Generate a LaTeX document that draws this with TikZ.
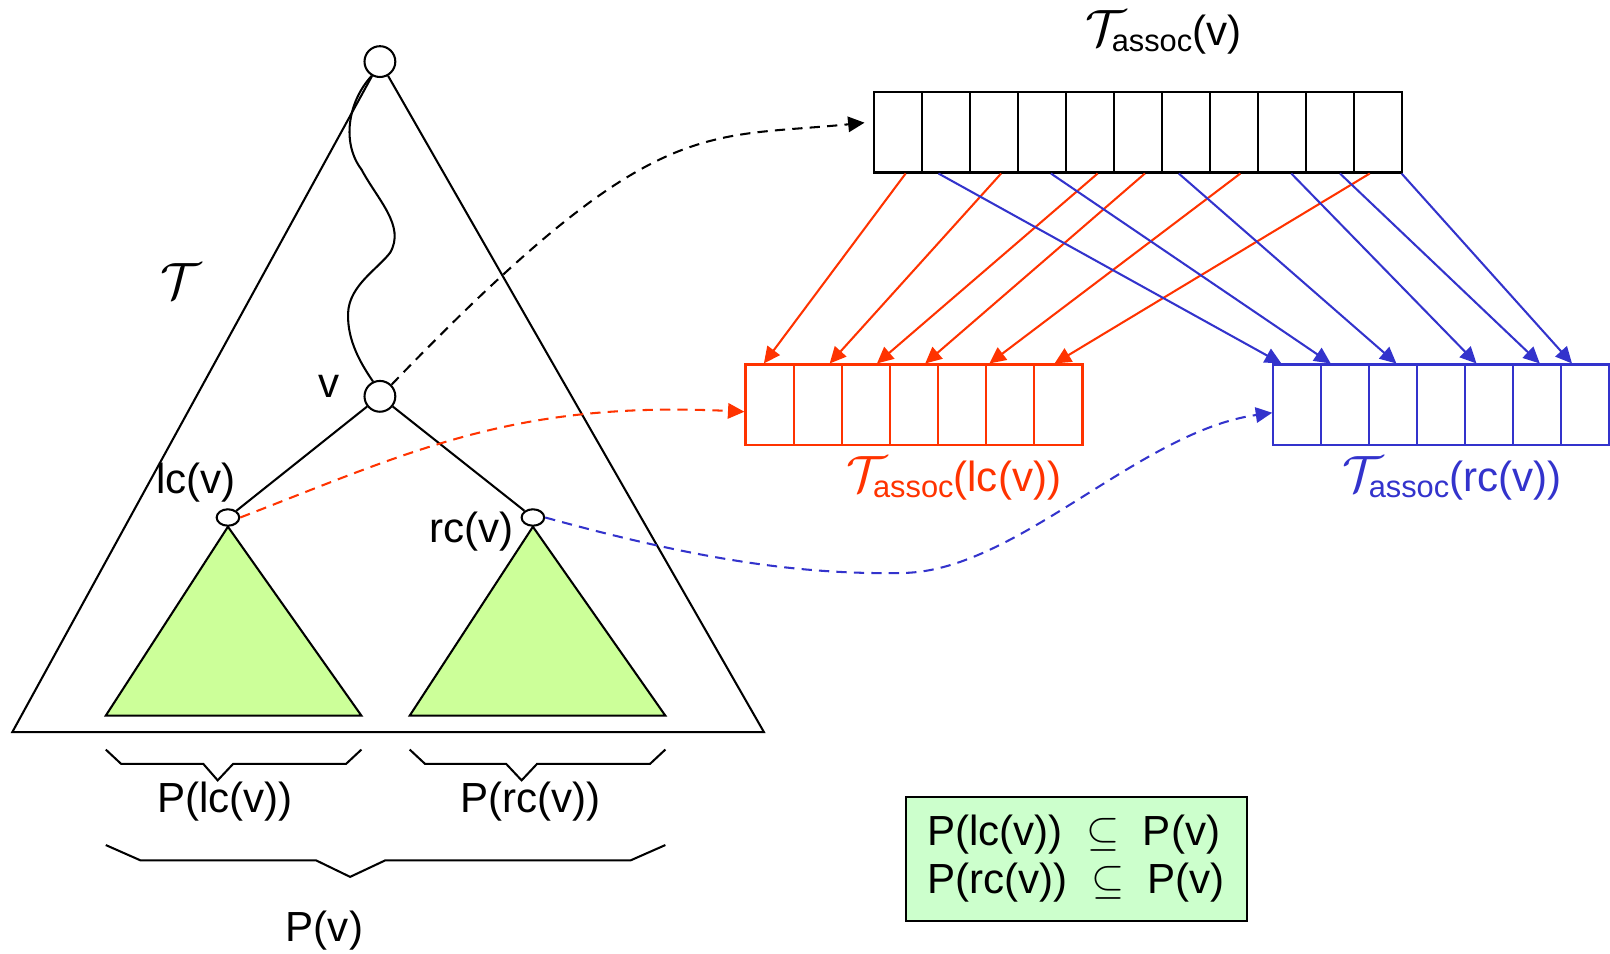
\documentclass[tikz,border=0pt]{standalone}
\usepackage{amsmath}
\usepackage{fontspec}
\setmainfont{Liberation Sans}
\usetikzlibrary{arrows.meta,shapes.geometric,calc}

\definecolor{assocred}{RGB}{255,51,0}
\definecolor{assocblue}{RGB}{51,51,204}
\definecolor{subtree}{RGB}{204,255,153}
\definecolor{notebox}{RGB}{204,255,204}

\newcommand{\assocT}{{\fontsize{24}{24}\selectfont$\mathcal{T}$}\kern-7pt\raisebox{-3pt}{\fontsize{15}{15}\selectfont assoc}}

\begin{document}
\begin{tikzpicture}[
    x=0.5pt, y=-0.5pt,
    >={Triangle[length=8pt,width=7.5pt]},
    line width=1pt,
    font=\fontsize{20.5}{23.5}\selectfont,
    treenode/.style={circle, draw, fill=white, minimum size=15pt, inner sep=0pt},
    leafnode/.style={ellipse, draw, fill=white, minimum width=11pt, minimum height=8pt, inner sep=0pt},
    cell/.style={draw, minimum width=23.4pt, minimum height=39pt, inner sep=0pt},
    link/.style={->, dashed, dash pattern=on 5pt off 3.5pt},
    subtri/.style={fill=subtree, draw=black, line join=miter},
    brace/.style={line join=miter}
]
    \useasboundingbox (0,0) rectangle (1568,929);

    % the tree T
    \coordinate (bl) at (12,713);
    \coordinate (br) at (744,713);
    \node[treenode] (root) at (370,60) {};
    \node[treenode] (v) at (370,386) {};
    \node[leafnode] (lc) at (222,504) {};
    \node[leafnode] (rc) at (519,504) {};

    \draw[line join=miter] (root) -- (bl) -- (br) -- (root);
    \draw[subtri] (lc.south) -- (103,697) -- (352,697) -- cycle;
    \draw[subtri] (rc.south) -- (399,697) -- (648,697) -- cycle;
    \draw (v) -- (lc);
    \draw (v) -- (rc);
    \draw (root.240) .. controls (338,100) and (333,140) .. (352,165)
        .. controls (368,195) and (395,220) .. (380,246)
        .. controls (368,262) and (340,278) .. (339,305)
        .. controls (338,332) and (352,355) .. (v.115);

    \node (tname) at (176,274) {\fontsize{31}{31}\selectfont$\mathcal{T}$};
    \node (vname) at (320,376) {v};
    \node (lcname) at (191,470) {lc(v)};
    \node (rcname) at (459,518) {rc(v)};

    % braces under the subtrees
    \draw[brace] (103,730) -- (118,744) -- (198,744) -- (212,760) -- (227,744) -- (337,744) -- (352,730);
    \draw[brace] (399,730) -- (414,744) -- (493,744) -- (508,760) -- (523,744) -- (633,744) -- (648,730);
    \draw[brace] (103,823) -- (137,838) -- (308,838) -- (341,854) -- (375,838) -- (614,838) -- (648,823);
    \node (plc) at (219,781) {P(lc(v))};
    \node (prc) at (517,781) {P(rc(v))};
    \node (pv) at (316,906) {P(v)};

    % associated structures
    \foreach \i in {1,...,11}
        \node[cell] (t\i) at ({851+46.8*(\i-0.5)},129) {};
    \foreach \i in {1,...,7} {
        \node[cell, draw=assocred] (r\i) at ({726+46.9*(\i-0.5)},394) {};
        \node[cell, draw=assocblue] (b\i) at ({1240+46.75*(\i-0.5)},394) {};
    }
    \node[anchor=base, inner sep=0pt] (tv) at (1133,44) {\assocT(v)};
    \node[anchor=base, assocred] (tlc) at (929,479) {\assocT(lc(v))};
    \node[anchor=base, assocblue] (trc) at (1414,479) {\assocT(rc(v))};

    \foreach \s/\ds/\e/\de in {t1/7.6/r1/-5.5, t3/7/r2/11.7, t5/7.4/r3/10.8,
            t6/6.6/r4/10.9, t8/6/r6/-20.4, t11/-8.4/r7/-3.8}
        \draw[->, assocred] ($(\s.south)+(\ds,0)$) -- ($(\e.north)+(\de,0)$);
    \foreach \s/\ds/\e/\de in {t2/-7.2/b1/-15.4, t4/8.7/b2/-14.1, t7/-7.2/b3/3.1,
            t9/8.8/b5/-12.4, t10/9.4/b6/2.5, t11/22.6/b7/-12.9}
        \draw[->, assocblue] ($(\s.south)+(\ds,0)$) -- ($(\e.north)+(\de,0)$);

    % pointers from the tree nodes
    \coordinate (tin) at (842,119.5);
    \coordinate (rin) at (725,401);
    \coordinate (bin) at (1239,402);
    \draw[link] (v.45) .. controls (636,110) and (682,135.5) .. (tin);
    \draw[link, assocred] (lc.east) .. controls (400,440) and (500,390) .. (rin);
    \draw[link, assocblue] (rc.east) .. controls (680,545) and (780,560) .. (880,558)
        .. controls (990,556) and (1110,420) .. (bin);

    \node[draw, fill=notebox, minimum width=166pt, minimum height=60.5pt, align=left] (incl)
        at (1048,836.5) {P(lc(v))~~$\subseteq$~~P(v)\\P(rc(v))~~$\subseteq$~~P(v)};
\end{tikzpicture}
\end{document}
